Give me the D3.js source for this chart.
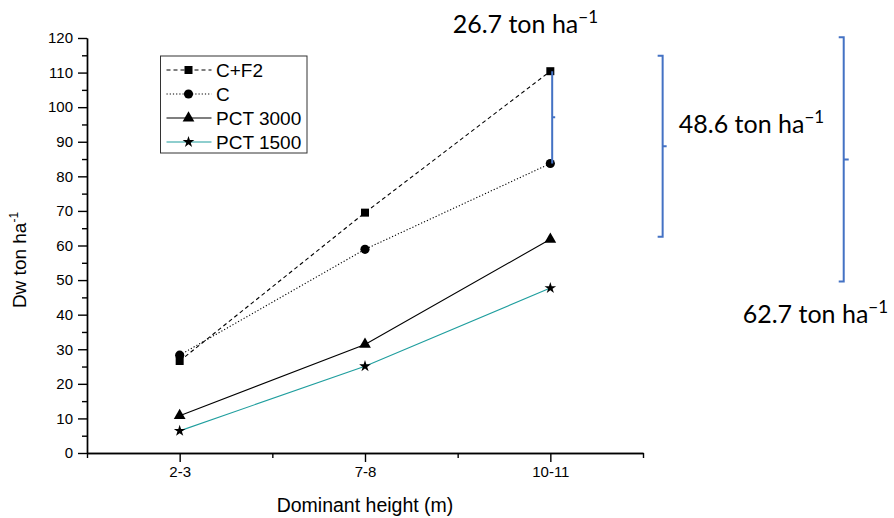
<!DOCTYPE html>
<html>
<head>
<meta charset="utf-8">
<script src="https://cdn.jsdelivr.net/npm/d3@7"></script>
<style>
  html, body { margin: 0; padding: 0; background: #fff; }
  svg { display: block; }
</style>
</head>
<body>
<svg id="chart" width="894" height="518"></svg>
<script>
// Dry weight by dominant height class for four treatments
const categories = ["2-3", "7-8", "10-11"];
const seriesNames = ["C+F2", "C", "PCT 3000", "PCT 1500"];
const cf2Values = [26.6, 69.5, 110.4];
const cValues = [28.3, 58.9, 83.7];
const pct3000Values = [10.8, 31.4, 61.8];
const pct1500Values = [6.4, 25.1, 47.7];
const yTickValues = d3.range(0, 121, 10);
const yMinorTickValues = d3.range(5, 120, 10);
const xMinorTickValues = [0.5, 1.5, 2.5, 3.5];

const AXIS_FONT = "'Liberation Sans', Arial, sans-serif";
const NOTE_FONT = "Lato, 'Open Sans', sans-serif";
const NOTE_BLUE = "#4472c4";

const svg = d3.select("#chart");
svg.append("rect").attr("width", 894).attr("height", 518).attr("fill", "#fff");

const x = d3.scaleLinear().domain([0.5, 3.5]).range([87, 643]);
const y = d3.scaleLinear().domain([0, 120]).range([453, 38]);

// series table built from the value arrays
const series = [
  { name: seriesNames[0], values: cf2Values, symbol: d3.symbolSquare, size: 64, color: "#000", dash: "4,3" },
  { name: seriesNames[1], values: cValues, symbol: d3.symbolCircle, size: 66, color: "#000", dash: "1.2,2" },
  { name: seriesNames[2], values: pct3000Values, symbol: d3.symbolTriangle, size: 60, color: "#000", dash: null },
  { name: seriesNames[3], values: pct1500Values, symbol: d3.symbolStar, size: 42, color: "#1f9e9e", dash: null }
];

// ---- axes ----
const axisStyle = g => {
  g.selectAll("path.domain").attr("stroke", "#000").attr("stroke-width", 1.4);
  g.selectAll(".tick line").attr("stroke", "#000").attr("stroke-width", 1.4);
  g.selectAll("text").attr("font-family", AXIS_FONT).attr("font-size", 15).attr("fill", "#000");
};

// y minor ticks
svg.append("g")
  .attr("transform", `translate(${x(0.5)},0)`)
  .call(d3.axisLeft(y).tickValues(yMinorTickValues).tickSize(5).tickSizeOuter(0).tickFormat(""))
  .call(axisStyle);
// y major ticks
svg.append("g")
  .attr("transform", `translate(${x(0.5)},0)`)
  .call(d3.axisLeft(y).tickValues(yTickValues).tickSize(9).tickPadding(5).tickSizeOuter(0))
  .call(axisStyle);

// x minor ticks
svg.append("g")
  .attr("transform", `translate(0,${y(0)})`)
  .call(d3.axisBottom(x).tickValues(xMinorTickValues).tickSize(5).tickSizeOuter(0).tickFormat(""))
  .call(axisStyle);
// x major ticks with category labels
svg.append("g")
  .attr("transform", `translate(0,${y(0)})`)
  .call(d3.axisBottom(x).tickValues(categories.map((c, i) => i + 1))
    .tickSize(9).tickPadding(4).tickSizeOuter(0)
    .tickFormat(d => categories[d - 1]))
  .call(axisStyle);

// axis titles
svg.append("text")
  .attr("x", (x.range()[0] + x.range()[1]) / 2)
  .attr("y", 511.5)
  .attr("text-anchor", "middle")
  .attr("font-family", AXIS_FONT)
  .attr("font-size", 19.5)
  .text("Dominant height (m)");

const yTitle = svg.append("text")
  .attr("transform", "translate(26,260) rotate(-90)")
  .attr("text-anchor", "middle")
  .attr("font-family", AXIS_FONT)
  .attr("font-size", 19);
yTitle.append("tspan").text("Dw ton ha");
yTitle.append("tspan").attr("font-size", 12).attr("dy", -8).text("-1");

// ---- series lines and markers ----
const line = d3.line().x((d, i) => x(i + 1)).y(d => y(d));

series.forEach(s => {
  svg.append("path")
    .datum(s.values)
    .attr("d", line)
    .attr("fill", "none")
    .attr("stroke", s.color)
    .attr("stroke-width", 1.1)
    .attr("stroke-dasharray", s.dash);
});

// difference brackets between the treatments at the last height class
const last = categories.length - 1;
const brackets = [
  { xPos: 3.01, top: cf2Values[last], bottom: cValues[last], cap: 0, mid: 3 },
  { xPos: 3.606, top: 114.9, bottom: 62.5, cap: 5, mid: 4 },
  { xPos: 4.583, top: 120.2, bottom: 49.6, cap: 5, mid: 5 }
];

series.forEach(s => {
  svg.append("g").selectAll("path")
    .data(s.values)
    .join("path")
    .attr("transform", (d, i) => `translate(${x(i + 1)},${y(d)})`)
    .attr("d", d3.symbol(s.symbol, s.size))
    .attr("fill", "#000");
});

brackets.forEach(b => {
  const bx = x(b.xPos), t = y(b.top), bt = y(b.bottom), m = (t + bt) / 2;
  const p = d3.path();
  p.moveTo(bx - b.cap, t);
  p.lineTo(bx, t);
  p.lineTo(bx, bt);
  p.lineTo(bx - b.cap, bt);
  p.moveTo(bx, m);
  p.lineTo(bx + b.mid, m);
  svg.append("path")
    .attr("d", p.toString())
    .attr("fill", "none")
    .attr("stroke", NOTE_BLUE)
    .attr("stroke-width", 2);
});

// difference labels
const notes = [
  { diff: cf2Values[last] - cValues[last], xPos: 2.473, yPos: 121.4 },
  { diff: cf2Values[last] - pct3000Values[last], xPos: 3.693, yPos: 92.6 },
  { diff: cf2Values[last] - pct1500Values[last], xPos: 4.038, yPos: 37.5 }
];
notes.forEach(n => {
  const t = svg.append("text")
    .attr("x", x(n.xPos))
    .attr("y", y(n.yPos))
    .attr("font-family", NOTE_FONT)
    .attr("font-size", 25)
    .attr("fill", "#000");
  t.append("tspan").text(`${n.diff.toFixed(1)} ton ha`);
  t.append("tspan").attr("font-size", 17).attr("dy", -10).text("\u22121");
});

// ---- legend ----
const legend = svg.append("g").attr("transform", "translate(160.5,56)");
legend.append("rect")
  .attr("width", 146.5).attr("height", 97)
  .attr("fill", "#fff").attr("stroke", "#333").attr("stroke-width", 1);
series.forEach((s, i) => {
  const row = legend.append("g").attr("transform", `translate(0,${14 + i * 24})`);
  row.append("line")
    .attr("x1", 6).attr("x2", 51)
    .attr("stroke", s.color).attr("stroke-width", 1.1)
    .attr("stroke-dasharray", s.dash);
  row.append("path")
    .attr("transform", "translate(28,0)")
    .attr("d", d3.symbol(s.symbol, s.size))
    .attr("fill", "#000");
  row.append("text")
    .attr("x", 55.5).attr("dy", "0.35em")
    .attr("font-family", AXIS_FONT).attr("font-size", 19)
    .text(s.name);
});
</script>
</body>
</html>
